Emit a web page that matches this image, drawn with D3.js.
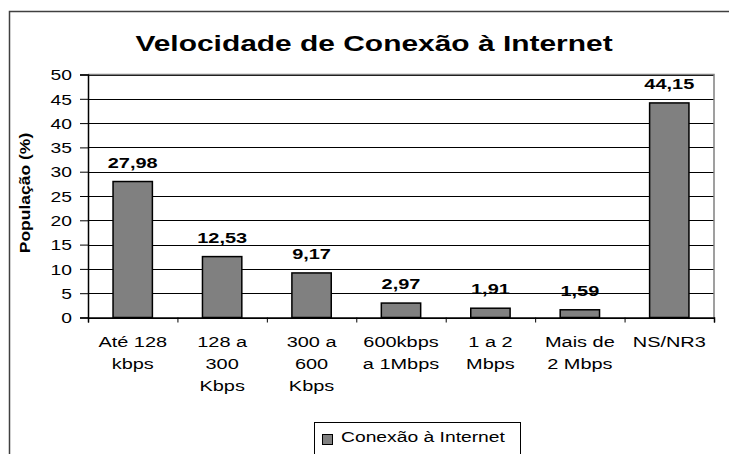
<!DOCTYPE html>
<html>
<head>
<meta charset="utf-8">
<script src="https://cdn.jsdelivr.net/npm/d3@7"></script>
<style>
  body { margin: 0; background: #fff; }
  svg { display: block; font-family: "Liberation Sans", Arial, sans-serif; }
</style>
</head>
<body>
<svg id="chart" width="729" height="454"></svg>
<script>
// data
var categories = ["Até 128 kbps", "128 a 300 Kbps", "300 a 600 Kbps", "600kbps a 1Mbps", "1 a 2 Mbps", "Mais de 2 Mbps", "NS/NR3"];
var categoryLines = [["Até 128", "kbps"], ["128 a", "300", "Kbps"], ["300 a", "600", "Kbps"], ["600kbps", "a 1Mbps"], ["1 a 2", "Mbps"], ["Mais de", "2 Mbps"], ["NS/NR3"]];
var values = [27.98, 12.53, 9.17, 2.97, 1.91, 1.59, 44.15];
var yTicks = [0, 5, 10, 15, 20, 25, 30, 35, 40, 45, 50];
var chartTitle = "Velocidade de Conexão à Internet";
var yTitle = "População (%)";
var seriesName = "Conexão à Internet";

var stretch = 1.33;  // the old renderer draws text wider than Arial
var plot = {left: 88, right: 714, top: 74.5, bottom: 317.5};

var svg = d3.select("#chart");

var ptBR = d3.formatLocale({decimal: ",", thousands: ".", grouping: [3], currency: ["R$", ""]});
var fmt = ptBR.format(".2f");

var x = d3.scaleBand().domain(categories).range([plot.left, plot.right]).paddingInner(0.56).paddingOuter(0.28);
var xEdge = d3.scaleLinear().domain([0, categories.length]).range([plot.left, plot.right]);
var y = d3.scaleLinear().domain([0, 50]).range([plot.bottom, plot.top]);

// outer frame
svg.append("rect")
  .attr("x", 9.5).attr("y", 11.5)
  .attr("width", 760).attr("height", 470)
  .attr("fill", "none").attr("stroke", "#404040").attr("stroke-width", 1.5);

// title
svg.append("text")
  .attr("transform", "translate(374,50.5) scale(" + stretch + ",1)")
  .attr("text-anchor", "middle")
  .style("font-size", "22.5px").style("font-weight", "bold")
  .text(chartTitle);

// grid lines
svg.append("g")
  .attr("transform", "translate(" + plot.left + ",0)")
  .call(d3.axisLeft(y).tickValues(yTicks).tickSize(-(plot.right - plot.left)).tickFormat(""))
  .call(g => g.select(".domain").remove())
  .call(g => g.selectAll("line").attr("stroke", "#000").attr("shape-rendering", "crispEdges"));

// plot border top / right
svg.append("path")
  .attr("d", "M" + plot.left + "," + plot.top + "H" + plot.right + "V" + plot.bottom)
  .attr("fill", "none").attr("stroke", "#808080").attr("stroke-width", 1.5);

// bars
svg.append("g").selectAll("rect")
  .data(values)
  .enter()
  .append("rect")
    .attr("x", (d, i) => x(categories[i]))
    .attr("y", d => y(d))
    .attr("width", x.bandwidth())
    .attr("height", d => y(0) - y(d))
    .attr("fill", "#808080")
    .attr("stroke", "#000")
    .attr("stroke-width", 1.5);

// value labels
svg.append("g").selectAll("text")
  .data(values)
  .enter()
  .append("text")
    .attr("transform", (d, i) => "translate(" + (x(categories[i]) + x.bandwidth() / 2) + "," + (y(d) - 14) + ") scale(" + stretch + ",1)")
    .attr("text-anchor", "middle")
    .style("font-size", "15px").style("font-weight", "bold")
    .text(d => fmt(d));

// y axis
var yAxis = d3.axisLeft(y).tickValues(yTicks).tickSize(8).tickPadding(8);
svg.append("g")
  .attr("transform", "translate(" + plot.left + ",0)")
  .call(yAxis)
  .attr("font-family", null).attr("font-size", null)
  .call(g => g.select(".domain").attr("stroke", "#000").attr("stroke-width", 1.5))
  .call(g => g.selectAll("line").attr("stroke", "#000"))
  .call(g => g.selectAll("text")
    .attr("x", -16 / stretch)
    .attr("transform", "scale(" + stretch + ",1)")
    .attr("dy", "0.36em")
    .attr("fill", "#000")
    .style("font-size", "14.5px"));

// x axis: ticks at category edges
svg.append("g")
  .attr("transform", "translate(0," + plot.bottom + ")")
  .call(d3.axisBottom(xEdge).tickValues(d3.range(categories.length + 1)).tickSize(5).tickFormat(""))
  .call(g => g.select(".domain").attr("stroke", "#000").attr("stroke-width", 1.5))
  .call(g => g.selectAll("line").attr("stroke", "#000"));

// x labels, several lines each
var xLabels = svg.append("g")
  .attr("transform", "translate(0," + plot.bottom + ")")
  .call(d3.axisBottom(x).tickSize(0).tickPadding(0))
  .attr("font-family", null).attr("font-size", null)
  .call(g => g.select(".domain").remove());
xLabels.selectAll("text")
  .attr("y", 29.3).attr("dy", null)
  .attr("fill", "#000")
  .attr("transform", "scale(" + stretch + ",1)")
  .style("font-size", "15px")
  .text(null)
  .each(function(d, i) {
    var t = d3.select(this);
    categoryLines[i].forEach(function(line, k) {
      t.append("tspan").attr("x", 0).attr("y", 29.3 + k * 22).text(line);
    });
  });

// y axis title
svg.append("text")
  .attr("transform", "translate(30,193) rotate(-90) scale(1.25,1)")
  .attr("text-anchor", "middle")
  .style("font-size", "14px").style("font-weight", "bold")
  .text(yTitle);

// legend
var legend = svg.append("g");
legend.append("rect")
  .attr("x", 314.5).attr("y", 422.5).attr("width", 206).attr("height", 60)
  .attr("fill", "#fff").attr("stroke", "#000");
legend.append("rect")
  .attr("x", 322.5).attr("y", 434.5).attr("width", 10).attr("height", 10)
  .attr("fill", "#808080").attr("stroke", "#000");
legend.append("text")
  .attr("transform", "translate(341,441.5) scale(" + stretch + ",1)")
  .style("font-size", "14.5px")
  .text(seriesName);
</script>
</body>
</html>
